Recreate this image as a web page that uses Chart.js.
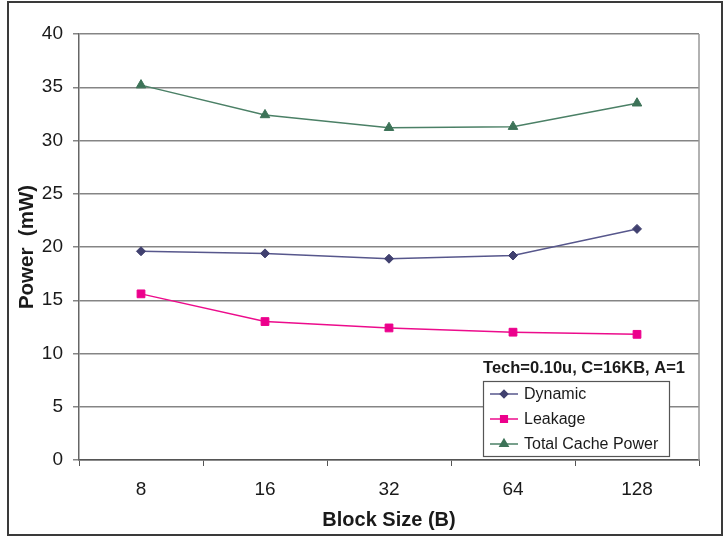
<!DOCTYPE html>
<html>
<head>
<meta charset="utf-8">
<script src="https://cdn.jsdelivr.net/npm/chart.js@4.4.1/dist/chart.umd.min.js"></script>
<style>
html,body{margin:0;padding:0;background:#fff;}
#wrap{width:724px;height:539px;position:relative;}
</style>
</head>
<body>
<div id="wrap"><canvas id="c" width="724" height="539"></canvas></div>
<script>
const categories = ['8', '16', '32', '64', '128'];
const dynamicPower = [19.6, 19.4, 18.9, 19.2, 21.7];
const leakagePower = [15.6, 13.0, 12.4, 12.0, 11.8];
const totalPower = [35.2, 32.4, 31.2, 31.3, 33.5];
const seriesNames = ['Dynamic', 'Leakage', 'Total Cache Power'];
const legendTitle = 'Tech=0.10u, C=16KB, A=1';
const xTitle = 'Block Size (B)';
const yTitle = 'Power  (mW)';

const FONT = "'Liberation Sans', Arial, sans-serif";

const framePlugin = {
  id: 'frame',
  beforeDraw(chart) {
    const ctx = chart.ctx;
    ctx.save();
    ctx.fillStyle = '#fff';
    ctx.fillRect(0, 0, chart.width, chart.height);
    ctx.restore();
  },
  afterDraw(chart) {
    const ctx = chart.ctx;
    const a = chart.chartArea;
    ctx.save();
    ctx.strokeStyle = '#999';
    ctx.lineWidth = 1.5;
    ctx.beginPath();
    ctx.moveTo(a.right, a.top);
    ctx.lineTo(a.right, a.bottom);
    ctx.stroke();
    ctx.strokeStyle = '#3a3a3a';
    ctx.lineWidth = 2;
    ctx.strokeRect(8, 2, 714, 533);

    const bx = 483, by = 381, bw = 186, bh = 75;
    ctx.fillStyle = '#fff';
    ctx.fillRect(bx, by, bw, bh);
    ctx.strokeStyle = '#555';
    ctx.lineWidth = 1.2;
    ctx.strokeRect(bx + 0.5, by + 0.5, bw, bh);

    ctx.fillStyle = '#1a1a1a';
    ctx.font = "bold 16.5px " + FONT;
    ctx.textAlign = 'center';
    ctx.textBaseline = 'middle';
    ctx.fillText(legendTitle, 584, 368);

    ctx.font = "16px " + FONT;
    ctx.textAlign = 'left';
    chart.data.datasets.forEach((ds, i) => {
      const yy = 394 + i * 25;
      ctx.strokeStyle = ds.borderColor;
      ctx.lineWidth = 1.5;
      ctx.beginPath();
      ctx.moveTo(490, yy);
      ctx.lineTo(518, yy);
      ctx.stroke();
      ctx.fillStyle = ds.pointBackgroundColor;
      ctx.strokeStyle = ds.pointBorderColor;
      Chart.helpers.drawPoint(ctx, {pointStyle: ds.pointStyle, radius: ds.pointRadius - 0.8, borderWidth: 1, rotation: 0}, 504, yy);
      ctx.fillStyle = '#1a1a1a';
      ctx.fillText(ds.label, 524, yy + 1);
    });
    ctx.restore();
  }
};

new Chart(document.getElementById('c'), {
  type: 'line',
  data: {
    labels: categories,
    datasets: [
      {label: seriesNames[0], data: dynamicPower, borderColor: '#57578c', borderWidth: 1.5,
       pointStyle: 'rectRot', pointRadius: 4.5, pointBackgroundColor: '#40406f', pointBorderColor: '#40406f', pointBorderWidth: 1},
      {label: seriesNames[1], data: leakagePower, borderColor: '#ec0c8c', borderWidth: 1.5,
       pointStyle: 'rect', pointRadius: 5.5, pointBackgroundColor: '#ec008c', pointBorderColor: '#ec008c', pointBorderWidth: 1},
      {label: seriesNames[2], data: totalPower, borderColor: '#4b8066', borderWidth: 1.5,
       pointStyle: 'triangle', pointRadius: 5.5, pointBackgroundColor: '#3d7358', pointBorderColor: '#3d7358', pointBorderWidth: 1}
    ]
  },
  options: {
    responsive: false,
    animation: false,
    devicePixelRatio: 1,
    layout: {padding: {left: 15, top: 34, right: 25, bottom: 7}},
    plugins: {legend: {display: false}, tooltip: {enabled: false}},
    elements: {line: {tension: 0}},
    scales: {
      x: {
        offset: true,
        grid: {offset: true, drawOnChartArea: false, tickLength: 6, color: '#555', lineWidth: 1},
        border: {color: '#555', width: 1.5},
        ticks: {color: '#1a1a1a', font: {family: FONT, size: 19}, padding: 12, maxRotation: 0},
        title: {display: true, text: xTitle, color: '#1a1a1a', font: {family: FONT, size: 20, weight: 'bold'}, padding: {top: 2, bottom: 0}},
        afterFit(s) { s.height = 539 - 7 - 460; }
      },
      y: {
        min: 0, max: 40,
        ticks: {stepSize: 5, color: '#1a1a1a', font: {family: FONT, size: 19}, padding: 10},
        grid: {color: '#858585', lineWidth: 1.5, tickLength: 6},
        border: {color: '#666', width: 1.5},
        title: {display: true, text: yTitle, color: '#1a1a1a', font: {family: FONT, size: 20.5, weight: 'bold'}, padding: {top: 0, bottom: 0}},
        afterFit(s) { s.width = 79 - 15; }
      }
    }
  },
  plugins: [framePlugin]
});
</script>
</body>
</html>
